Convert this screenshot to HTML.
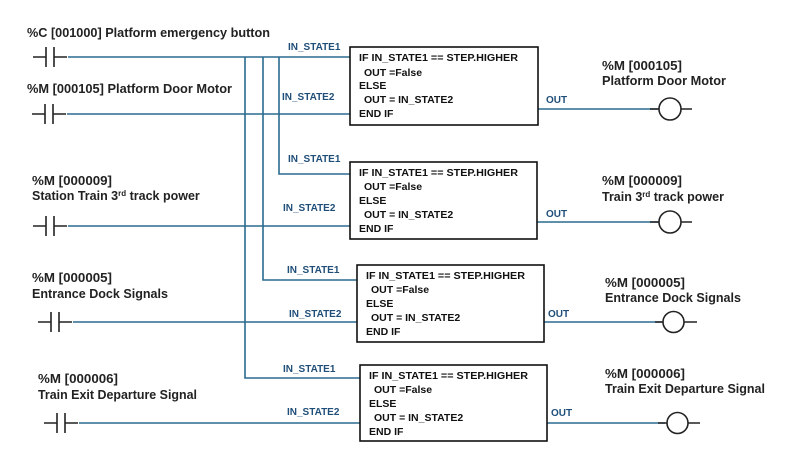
<!DOCTYPE html>
<html><head><meta charset="utf-8"><style>
html,body{margin:0;padding:0;background:#fff;}
svg{display:block;}
.l{font-family:"Liberation Sans",sans-serif;font-weight:bold;font-size:12.5px;fill:#222;}
.b{font-family:"Liberation Sans",sans-serif;font-weight:bold;font-size:10.5px;fill:#111;}
.s{font-family:"Liberation Sans",sans-serif;font-weight:bold;font-size:10px;fill:#1f4e79;}
.w{stroke:#2a6a8e;stroke-width:1.6;fill:none;}
.k{stroke:#222;stroke-width:1.6;fill:none;}
</style></head><body>
<svg width="800" height="474" viewBox="0 0 800 474" xmlns="http://www.w3.org/2000/svg">
<!-- left labels -->
<text class="l" x="27" y="37" textLength="243" lengthAdjust="spacingAndGlyphs">%C [001000] Platform emergency button</text>
<text class="l" x="27" y="93" textLength="205" lengthAdjust="spacingAndGlyphs">%M  [000105] Platform Door Motor</text>
<text class="l" x="32" y="185" textLength="80" lengthAdjust="spacingAndGlyphs">%M  [000009]</text>
<text class="l" x="32" y="200">Station Train 3<tspan font-size="8" dy="-4">rd</tspan><tspan dy="4"> track power</tspan></text>
<text class="l" x="32" y="282" textLength="80" lengthAdjust="spacingAndGlyphs">%M  [000005]</text>
<text class="l" x="32" y="298" textLength="136" lengthAdjust="spacingAndGlyphs">Entrance Dock Signals</text>
<text class="l" x="38" y="383" textLength="80" lengthAdjust="spacingAndGlyphs">%M  [000006]</text>
<text class="l" x="38" y="399" textLength="159" lengthAdjust="spacingAndGlyphs">Train Exit Departure Signal</text>
<!-- right labels -->
<text class="l" x="602" y="70" textLength="80" lengthAdjust="spacingAndGlyphs">%M  [000105]</text>
<text class="l" x="602" y="85" textLength="124" lengthAdjust="spacingAndGlyphs">Platform Door Motor</text>
<text class="l" x="602" y="185" textLength="80" lengthAdjust="spacingAndGlyphs">%M  [000009]</text>
<text class="l" x="602" y="201">Train 3<tspan font-size="8" dy="-4">rd</tspan><tspan dy="4"> track power</tspan></text>
<text class="l" x="605" y="287" textLength="80" lengthAdjust="spacingAndGlyphs">%M  [000005]</text>
<text class="l" x="605" y="302" textLength="136" lengthAdjust="spacingAndGlyphs">Entrance Dock Signals</text>
<text class="l" x="605" y="378" textLength="80" lengthAdjust="spacingAndGlyphs">%M  [000006]</text>
<text class="l" x="605" y="393" textLength="160" lengthAdjust="spacingAndGlyphs">Train Exit Departure Signal</text>
<!-- contacts -->
<g class="k">
<path d="M33 57H46M46 47V67M54 47V67M54 57H67"/>
<path d="M32 114H45M45 104V124M53 104V124M53 114H66"/>
<path d="M33 226H46M46 216V236M54 216V236M54 226H67"/>
<path d="M38 322H51M51 312V332M59 312V332M59 322H72"/>
<path d="M44 423H57M57 413V433M65 413V433M65 423H78"/>
</g>
<!-- wires -->
<g class="w">
<path d="M68 57H350"/>
<path d="M67 114H350"/>
<path d="M68 226H350"/>
<path d="M73 322H357"/>
<path d="M79 423H360"/>
<path d="M279 57V174H350"/>
<path d="M263 57V280H357"/>
<path d="M245 57V378H360"/>
<path d="M538 109H659"/>
<path d="M537 222H659"/>
<path d="M544 322H662"/>
<path d="M547 423H665"/>
</g>
<!-- coils -->
<g class="k">
<path d="M650 109H659M681 109H692"/><circle cx="670" cy="109" r="11"/>
<path d="M650 222H659M681 222H692"/><circle cx="670" cy="222" r="11"/>
<path d="M655 322H663M684 322H697"/><circle cx="673.5" cy="322" r="10.5"/>
<path d="M658 423H667M688 423H700"/><circle cx="677.5" cy="423" r="10.5"/>
</g>
<!-- wire labels -->
<text class="s" x="288" y="50">IN_STATE1</text>
<text class="s" x="282" y="100">IN_STATE2</text>
<text class="s" x="288" y="162">IN_STATE1</text>
<text class="s" x="283" y="211">IN_STATE2</text>
<text class="s" x="287" y="273">IN_STATE1</text>
<text class="s" x="289" y="317">IN_STATE2</text>
<text class="s" x="283" y="372">IN_STATE1</text>
<text class="s" x="287" y="415">IN_STATE2</text>
<text class="s" x="546" y="103">OUT</text>
<text class="s" x="546" y="217">OUT</text>
<text class="s" x="548" y="317">OUT</text>
<text class="s" x="551" y="416">OUT</text>
<!-- boxes -->
<g stroke="#111" stroke-width="1.6" fill="#fff">
<rect x="350" y="47" width="188" height="78"/>
<rect x="350" y="162" width="187" height="77"/>
<rect x="357" y="265" width="187" height="77"/>
<rect x="360" y="365" width="187" height="76"/>
</g>
<g class="b">
<text x="359" y="61" textLength="159" lengthAdjust="spacingAndGlyphs">IF IN_STATE1 == STEP.HIGHER</text>
<text x="364" y="76">OUT =False</text><text x="359" y="89">ELSE</text>
<text x="364" y="103">OUT = IN_STATE2</text><text x="359" y="117">END IF</text>
<text x="359" y="176" textLength="159" lengthAdjust="spacingAndGlyphs">IF IN_STATE1 == STEP.HIGHER</text>
<text x="364" y="190">OUT =False</text><text x="359" y="204">ELSE</text>
<text x="364" y="218">OUT = IN_STATE2</text><text x="359" y="232">END IF</text>
<text x="366" y="279" textLength="159" lengthAdjust="spacingAndGlyphs">IF IN_STATE1 == STEP.HIGHER</text>
<text x="371" y="293">OUT =False</text><text x="366" y="307">ELSE</text>
<text x="371" y="321">OUT = IN_STATE2</text><text x="366" y="335">END IF</text>
<text x="369" y="379" textLength="159" lengthAdjust="spacingAndGlyphs">IF IN_STATE1 == STEP.HIGHER</text>
<text x="374" y="393">OUT =False</text><text x="369" y="407">ELSE</text>
<text x="374" y="421">OUT = IN_STATE2</text><text x="369" y="435">END IF</text>
</g>
</svg>
</body></html>
